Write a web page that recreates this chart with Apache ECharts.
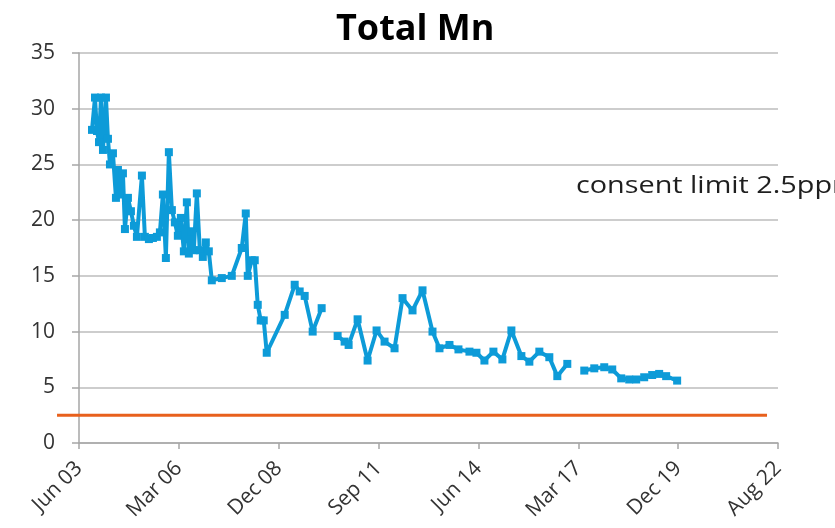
<!DOCTYPE html>
<html>
<head>
<meta charset="utf-8">
<script src="https://cdn.jsdelivr.net/npm/echarts@6/dist/echarts.min.js"></script>
<style>
  html, body { margin: 0; padding: 0; background: #ffffff; }
  #chart { width: 835px; height: 528px; }
</style>
</head>
<body>
<div id="chart"></div>
<script>
// Sampling dates and total manganese results (ppm); null marks a break in the record
const sampleDates = [
  '2003-11-05', '2003-12-05', '2003-12-25', '2004-01-14', '2004-02-03', '2004-02-23',
  '2004-03-24', '2004-04-13', '2004-05-03', '2004-06-02', '2004-07-02', '2004-07-22',
  '2004-08-11', '2004-09-10', '2004-09-30', '2004-10-30', '2004-11-29', '2004-12-29',
  '2005-01-28', '2005-03-19', '2005-04-18', '2005-05-28', '2005-07-07', '2005-08-16',
  '2005-09-15', '2005-10-15', '2005-11-14', '2005-12-14', '2006-01-13', '2006-02-12',
  '2006-03-14', '2006-04-13', '2006-05-13', '2006-06-12', '2006-07-02', '2006-08-01',
  '2006-08-21', '2006-09-20', '2006-10-20', '2006-11-19', '2006-12-19', '2007-01-18',
  '2007-02-17', '2007-05-28', '2007-09-05', '2007-12-14', '2008-01-23', '2008-02-12',
  '2008-03-23', '2008-04-22', '2008-05-22', '2008-06-21', '2008-07-21', '2008-08-20',
  '2009-02-16', '2009-05-27', '2009-07-16', '2009-09-04', '2009-11-23', '2010-02-21',
  '2010-05-12',
  '2010-07-31', '2010-10-09', '2010-11-18', '2011-02-16', '2011-05-27', '2011-08-25',
  '2011-11-13', '2012-02-21', '2012-05-11', '2012-08-19', '2012-11-27', '2013-03-07',
  '2013-05-16', '2013-08-24', '2013-11-22', '2014-03-12', '2014-05-21', '2014-08-09',
  '2014-11-07', '2015-02-05', '2015-05-06', '2015-08-14', '2015-11-02', '2016-02-10',
  '2016-05-20', '2016-08-08', '2016-11-16',
  '2017-02-04',
  '2017-05-05', '2017-08-13', '2017-11-21', '2018-02-09', '2018-05-10', '2018-07-29',
  '2018-10-07', '2018-12-26', '2019-03-16', '2019-05-25', '2019-08-03', '2019-11-21'
];
const mnValues = [
  28.1, 31.0, 28.0, 27.0, 31.0, 26.3,
  31.0, 27.3, 25.0, 26.0, 22.0, 24.5,
  22.3, 24.2, 19.2, 22.0, 20.8, 19.5,
  18.5, 24.0, 18.5, 18.3, 18.4, 18.5,
  18.9, 22.3, 16.6, 26.1, 20.9, 19.8,
  18.6, 20.2, 17.2, 21.6, 17.0, 19.0,
  17.3, 22.4, 17.3, 16.7, 18.0, 17.2,
  14.6, 14.8, 15.0, 17.5, 20.6, 15.0,
  16.4, 16.4, 12.4, 11.0, 11.0, 8.1,
  11.5, 14.2, 13.6, 13.2, 10.0, 12.1,
  null,
  9.6, 9.1, 8.8, 11.1, 7.4, 10.1,
  9.1, 8.5, 13.0, 11.9, 13.7, 10.0,
  8.5, 8.8, 8.4, 8.2, 8.1, 7.4,
  8.2, 7.5, 10.1, 7.8, 7.3, 8.2,
  7.7, 6.0, 7.1,
  null,
  6.5, 6.7, 6.8, 6.6, 5.8, 5.7,
  5.7, 5.9, 6.1, 6.2, 6.0, 5.6
];

// Consent limit line (ppm)
const limitDates = ['2002-11-20', '2022-05-09'];
const limitValues = [2.5, 2.5];
const limitText = 'consent limit 2.5ppm';

// Date axis: ticks every 1000 days from the axis origin
const axisOrigin = '2003-06-28';
const xTickLabels = ['Jun 03', 'Mar 06', 'Dec 08', 'Sep 11', 'Jun 14', 'Mar 17', 'Dec 19', 'Aug 22'];
const yTickLabels = ['0', '5', '10', '15', '20', '25', '30', '35'];

const DAY = 86400000;
const dayOffset = d => (Date.parse(d) - Date.parse(axisOrigin)) / DAY;

const mnData = sampleDates.map((d, i) => [dayOffset(d), mnValues[i] == null ? '-' : mnValues[i]]);
const limitData = limitDates.map((d, i) => [dayOffset(d), limitValues[i]]);

// Plot area geometry shared by the main grid and the limit-line overlay
const plot = { left: 79, top: 53, width: 699, height: 390 };
const xMax = (xTickLabels.length - 1) * 1000;
const pxPerDay = plot.width / xMax;
const limitLeft = plot.left + limitData[0][0] * pxPerDay;
const limitWidth = (limitData[1][0] - limitData[0][0]) * pxPerDay;

const labelFont = '"Open Sans", "DejaVu Sans", sans-serif';
const axisGrey = '#a6a6a6';
const gridGrey = '#bcbcbc';
const textGrey = '#333333';

const chart = echarts.init(document.getElementById('chart'), null, { renderer: 'canvas' });
chart.setOption({
  animation: false,
  backgroundColor: '#ffffff',
  title: {
    text: 'Total Mn',
    left: 331,
    top: 7,
    textStyle: { fontFamily: labelFont, fontSize: 36, fontWeight: 'bold', color: '#000000' }
  },
  grid: [
    { left: plot.left, top: plot.top, width: plot.width, height: plot.height, containLabel: false },
    { left: limitLeft, top: plot.top, width: limitWidth, height: plot.height, containLabel: false }
  ],
  xAxis: [
    {
      type: 'value',
      gridIndex: 0,
      min: 0,
      max: xMax,
      interval: 1000,
      axisLine: { show: true, lineStyle: { color: axisGrey, width: 1.5 } },
      axisTick: { show: true, length: 6, lineStyle: { color: axisGrey, width: 1.5 } },
      splitLine: { show: false },
      axisLabel: {
        rotate: 45,
        margin: 22,
        fontFamily: labelFont,
        fontSize: 21,
        color: textGrey,
        formatter: v => xTickLabels[Math.round(v / 1000)] || ''
      }
    },
    {
      type: 'value',
      gridIndex: 1,
      min: limitData[0][0],
      max: limitData[1][0],
      show: false
    }
  ],
  yAxis: [
    {
      type: 'value',
      gridIndex: 0,
      min: 0,
      max: 35,
      interval: 5,
      axisLine: { show: true, lineStyle: { color: axisGrey, width: 1.5 } },
      axisTick: { show: true, length: 7, lineStyle: { color: axisGrey, width: 1.5 } },
      splitLine: { show: true, lineStyle: { color: gridGrey, width: 1.5 } },
      axisLabel: {
        margin: 24,
        fontFamily: labelFont,
        fontSize: 21,
        color: textGrey,
        formatter: v => yTickLabels[Math.round(v / 5)]
      }
    },
    {
      type: 'value',
      gridIndex: 1,
      min: 0,
      max: 35,
      show: false
    }
  ],
  series: [
    {
      name: 'Consent limit',
      type: 'line',
      xAxisIndex: 1,
      yAxisIndex: 1,
      data: limitData,
      symbol: 'none',
      lineStyle: { color: '#e8601c', width: 3 },
      z: 2
    },
    {
      name: 'Total Mn',
      type: 'line',
      xAxisIndex: 0,
      yAxisIndex: 0,
      data: mnData,
      connectNulls: false,
      symbol: 'rect',
      symbolSize: 8,
      lineStyle: { color: '#0d9bd8', width: 4 },
      itemStyle: { color: '#0d9bd8' },
      z: 3
    }
  ],
  graphic: [
    {
      type: 'text',
      x: 576,
      y: 186,
      scaleX: 1.2,
      style: {
        text: limitText,
        fontFamily: labelFont,
        fontSize: 24,
        fill: '#1f1f1f',
        verticalAlign: 'middle'
      }
    }
  ]
});
</script>
</body>
</html>
